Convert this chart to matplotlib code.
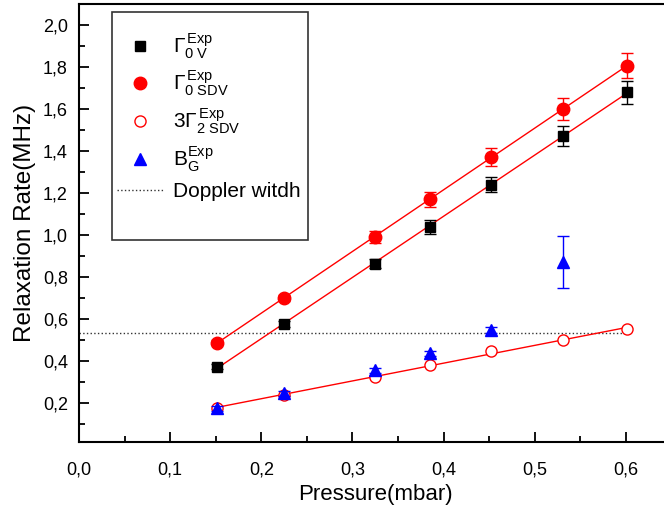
import numpy as np
import matplotlib
matplotlib.use('Agg')
import matplotlib.pyplot as plt
from matplotlib import ticker
from matplotlib.lines import Line2D
from matplotlib.patches import Rectangle

plt.rcParams['font.family'] = ['Liberation Sans', 'DejaVu Sans']
plt.rcParams['mathtext.fontset'] = 'custom'
plt.rcParams['mathtext.rm'] = 'Liberation Sans'
plt.rcParams['mathtext.it'] = 'Liberation Sans:italic'
plt.rcParams['mathtext.bf'] = 'Liberation Sans:bold'

# data
pressure = [0.151, 0.225, 0.325, 0.385, 0.452, 0.531, 0.601]
gamma0v = [0.374, 0.579, 0.865, 1.040, 1.242, 1.473, 1.682]
gamma0v_err = [0.012, 0.015, 0.022, 0.032, 0.037, 0.046, 0.055]
gamma0sdv = [0.488, 0.702, 0.992, 1.171, 1.373, 1.600, 1.808]
gamma0sdv_err = [0.012, 0.016, 0.030, 0.035, 0.044, 0.052, 0.060]
gamma2sdv = [0.179, 0.239, 0.326, 0.380, 0.449, 0.501, 0.553]
gamma2sdv_err = [0.010, 0.010, 0.012, 0.012, 0.012, 0.012, 0.012]
pressure_bg = [0.151, 0.225, 0.325, 0.385, 0.452, 0.531]
bg = [0.176, 0.247, 0.358, 0.438, 0.549, 0.873]
bg_err = [0.012, 0.012, 0.012, 0.012, 0.012, 0.125]
doppler = 0.535

labels = [r'$\Gamma^{\,\mathrm{Exp}}_{\mathrm{0\ V}}$',
          r'$\Gamma^{\,\mathrm{Exp}}_{\mathrm{0\ SDV}}$',
          r'$3\Gamma^{\,\mathrm{Exp}}_{\mathrm{2\ SDV}}$',
          r'$\mathrm{B}^{\mathrm{Exp}}_{\mathrm{G}}$',
          'Doppler witdh']


def comma(v, pos):
    return f'{v:.1f}'.replace('.', ',')


def main():
    fig = plt.figure(figsize=(6.64, 5.11), dpi=100)
    ax = fig.add_axes([0.119, 0.1344, 0.892, 0.857])

    x = np.array(pressure)

    # linear fits
    for ys in (gamma0v, gamma0sdv, gamma2sdv):
        k, b = np.polyfit(x, ys, 1)
        ax.plot([x[0], x[-1]], [k * x[0] + b, k * x[-1] + b], color='red', lw=1, zorder=2)

    ax.errorbar(pressure, gamma0v, yerr=gamma0v_err, fmt='s', color='black', ms=7.5,
                capsize=4, elinewidth=1, zorder=3)
    ax.errorbar(pressure, gamma0sdv, yerr=gamma0sdv_err, fmt='o', color='red', ms=9,
                capsize=4, elinewidth=1, zorder=3)
    ax.errorbar(pressure, gamma2sdv, yerr=gamma2sdv_err, fmt='o', color='red', mfc='white', ms=8,
                capsize=3, elinewidth=1, zorder=3)
    ax.errorbar(pressure_bg, bg, yerr=bg_err, fmt='^', color='blue', ms=9,
                capsize=4, elinewidth=1, zorder=4)
    ax.plot([0, x[-1]], [doppler, doppler], ls=':', color='#333333', lw=1, zorder=1)

    ax.set_xlim(0, 0.65)
    ax.set_ylim(0.014, 2.1)
    ax.xaxis.set_major_locator(ticker.MultipleLocator(0.1))
    ax.xaxis.set_minor_locator(ticker.MultipleLocator(0.05))
    ax.yaxis.set_major_locator(ticker.MultipleLocator(0.2))
    ax.yaxis.set_minor_locator(ticker.MultipleLocator(0.1))
    ax.xaxis.set_major_formatter(ticker.FuncFormatter(comma))
    ax.yaxis.set_major_formatter(ticker.FuncFormatter(comma))
    ax.tick_params(which='both', direction='in', labelsize=13, width=1.3)
    ax.tick_params(which='major', length=7)
    ax.tick_params(which='minor', length=4)
    ax.tick_params(axis='x', which='major', pad=14)
    ax.tick_params(axis='y', which='major', pad=8)
    for s in ax.spines.values():
        s.set_linewidth(1.5)

    ax.set_xlabel('Pressure(mbar)', fontsize=16, labelpad=4)
    ax.set_ylabel('Relaxation Rate(MHz)', fontsize=17.5, labelpad=5)

    # legend frame drawn by hand, entries placed inside it
    ax.add_patch(Rectangle((0.0557, 0.4617), 0.3309, 0.5207, transform=ax.transAxes,
                           fill=True, facecolor='white', edgecolor='#333333', lw=1.2, zorder=5))
    handles = [Line2D([], [], ls='none', marker='s', color='black', ms=7.5),
               Line2D([], [], ls='none', marker='o', color='red', ms=9),
               Line2D([], [], ls='none', marker='o', color='red', mfc='white', ms=8),
               Line2D([], [], ls='none', marker='^', color='blue', ms=9),
               Line2D([], [], ls=':', color='#333333', lw=1)]
    leg = ax.legend(handles, labels, loc='upper left', bbox_to_anchor=(0.0642, 0.939),
                    fontsize=15, frameon=False, labelspacing=0.4, handlelength=2.2,
                    handletextpad=0.47, borderpad=0, borderaxespad=0)
    leg.set_zorder(6)

    fig.savefig('out.png', dpi=100)


if __name__ == '__main__':
    main()
